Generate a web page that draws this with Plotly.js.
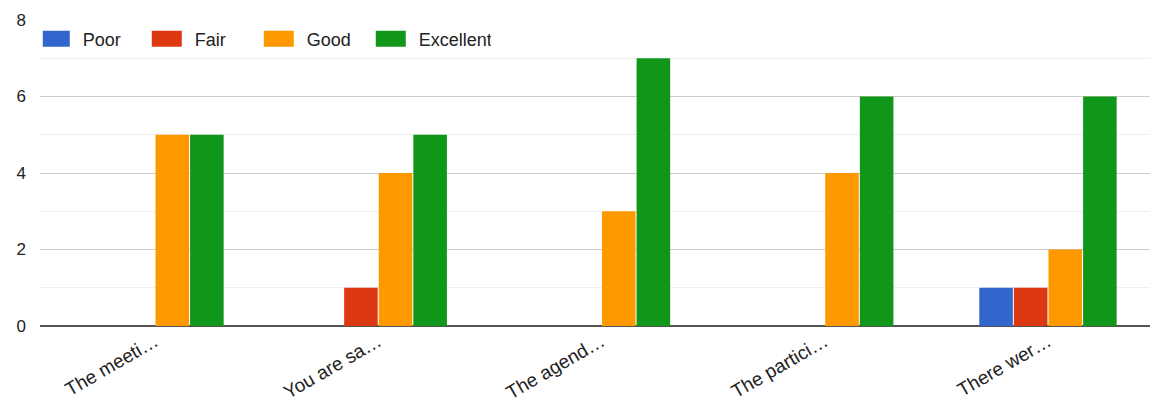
<!DOCTYPE html>
<html>
<head>
<meta charset="utf-8">
<script src="https://cdn.plot.ly/plotly-3.0.1.min.js"></script>
<style>html,body{margin:0;padding:0;background:#fff;}#chart{width:1162px;height:403px;}</style>
</head>
<body>
<div id="chart"></div>
<script>
const categories = ["The meeti…", "You are sa…", "The agend…", "The partici…", "There wer…"];
const poor = [0, 0, 0, 0, 1];
const fair = [0, 1, 0, 0, 1];
const good = [5, 4, 3, 4, 2];
const excellent = [5, 5, 7, 6, 6];
const seriesNames = ["Poor", "Fair", "Good", "Excellent"];
const colors = ["#3366cc", "#dc3912", "#ff9900", "#109618"];
const yTicks = [0, 2, 4, 6, 8];

const xIdx = categories.map((c, i) => i);
const traces = [poor, fair, good, excellent].map((vals, k) => ({
  type: "bar",
  name: seriesNames[k],
  x: xIdx,
  y: vals,
  marker: {color: colors[k]},
  hoverinfo: "skip"
}));

const layout = {
  width: 1162, height: 403,
  margin: {l: 40, r: 12, t: 20, b: 77},
  paper_bgcolor: "#ffffff", plot_bgcolor: "#ffffff",
  font: {family: "Liberation Sans, Arial, sans-serif", size: 17, color: "#222222"},
  barmode: "group",
  bargap: 0.38,
  bargroupgap: 0.03,
  showlegend: true,
  legend: {orientation: "h", x: 0.0025, xanchor: "left", y: 0.998, yanchor: "top",
           bgcolor: "rgba(0,0,0,0)", font: {size: 18, color: "#222222"},
           itemwidth: 30, tracegroupgap: 0, traceorder: "normal",
           entrywidth: 67, entrywidthmode: "pixels"},
  xaxis: {
    range: [-0.515, 4.457],
    tickmode: "array", tickvals: xIdx, ticktext: categories,
    tickangle: -30, showgrid: false, zeroline: false, showline: false,
    ticks: "", tickfont: {size: 19, color: "#222222"}, fixedrange: true
  },
  yaxis: {
    range: [0, 8],
    tickmode: "array", tickvals: yTicks, ticktext: yTicks.map(String),
    showgrid: true, gridcolor: "#cccccc", gridwidth: 1,
    minor: {dtick: 1, showgrid: true, gridcolor: "#eeeeee", gridwidth: 1},
    zeroline: true, zerolinecolor: "#555555", zerolinewidth: 2,
    showline: false, ticks: "", ticklabelstandoff: 13,
    tickfont: {size: 17, color: "#222222"}, fixedrange: true
  }
};

Plotly.newPlot("chart", traces, layout, {displayModeBar: false, staticPlot: true}).then(function (gd) {
  // enlarge legend swatches to wide rectangles like the reference
  gd.querySelectorAll(".legend .legendpoints path").forEach(function (p) {
    p.setAttribute("d", "M7,8H-23V-8H7Z");
  });
});
</script>
</body>
</html>
